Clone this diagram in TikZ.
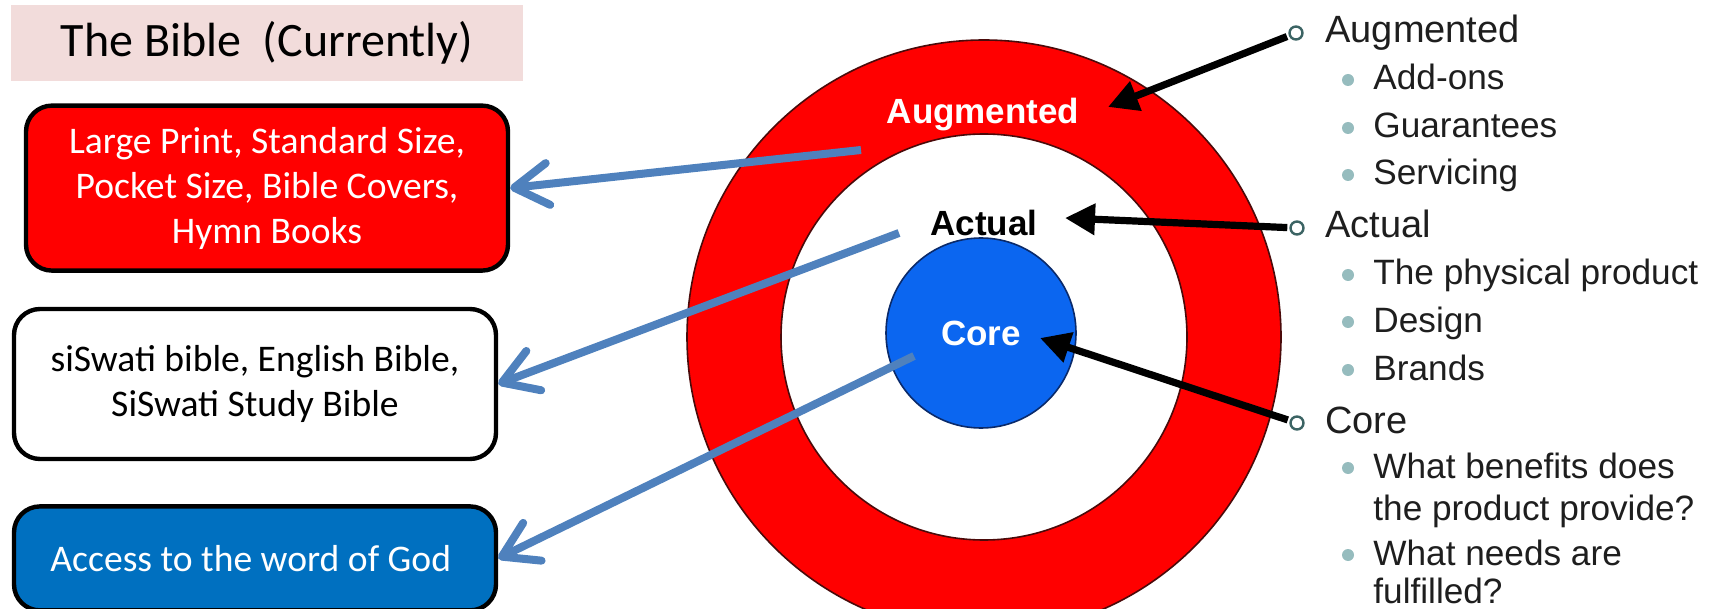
\documentclass[tikz,border=0pt]{standalone}
\usepackage{fontspec}
\setmainfont{Carlito}
\newfontfamily\arialfont{Liberation Sans}
\usetikzlibrary{arrows.meta, positioning}
\definecolor{titlebg}{HTML}{F2DCDB}
\definecolor{formatred}{HTML}{FF0000}
\definecolor{accessblue}{HTML}{0070C0}
\definecolor{pointerblue}{HTML}{4F81BD}
\definecolor{ringred}{HTML}{FF0000}
\definecolor{ringline}{HTML}{4A0A0A}
\definecolor{corefill}{HTML}{0B66F0}
\definecolor{coreline}{HTML}{0A2A6A}
\definecolor{listtext}{HTML}{1E1E1E}
\definecolor{bulletline}{HTML}{3C6464}
\definecolor{subbullet}{HTML}{96BCBE}
\tikzset{
  titlebox/.style={
    fill=titlebg,
    minimum width=256pt,
    minimum height=38pt,
    inner sep=0pt,
    font=\fontsize{24}{29}\selectfont
  },
  box/.style={
    draw=black,
    line width=2.2pt,
    rounded corners=13pt,
    minimum width=241pt,
    align=center,
    inner sep=0pt,
    font=\fontsize{18.8}{22.5}\selectfont
  },
  redbox/.style={
    box,
    fill=formatred,
    text=white,
    minimum height=82.5pt
  },
  plainbox/.style={
    box,
    fill=white,
    minimum height=75pt
  },
  bluebox/.style={
    box,
    fill=accessblue,
    text=white,
    minimum height=52pt
  },
  ring/.style={
    circle,
    draw=ringline,
    line width=0.8pt,
    inner sep=0pt
  },
  ringlabel/.style={
    inner sep=0pt,
    font=\arialfont\bfseries\fontsize{17.5}{20}\selectfont
  },
  listitem/.style={
    anchor=base west,
    inner sep=0pt,
    text=listtext,
    font=\arialfont\fontsize{19}{22}\selectfont
  },
  subitem/.style={
    listitem,
    font=\arialfont\fontsize{17.6}{21}\selectfont
  },
  mainbullet/.style={
    circle,
    draw=bulletline,
    line width=1.2pt,
    fill=white,
    inner sep=0pt,
    minimum size=6.5pt
  },
  subbullet/.style={
    circle,
    fill=subbullet,
    inner sep=0pt,
    minimum size=6pt
  },
  pointer/.style={
    -{Straight Barb[length=17pt, width=21pt, round]},
    line width=4pt,
    draw=pointerblue
  },
  callout/.style={
    -{Triangle[length=15pt, width=15pt]},
    line width=3.6pt,
    draw=black,
    shorten <=1pt
  }
}

\begin{document}
\begin{tikzpicture}[x=0.5pt, y=-0.5pt]

\useasboundingbox (0,0) rectangle (1718,609);
\clip (0,0) rectangle (1718,609);

% left column
\node[titlebox] (title) at (267,43) {The Bible\ \ (Currently)};

\node[redbox, below=11pt of title] (formats) {
  Large Print, Standard Size,\\
  Pocket Size, Bible Covers,\\
  Hymn Books
};

\node[plainbox, below=17pt of formats, xshift=-6pt] (languages) {
  siSwati bible, English Bible,\\
  SiSwati Study Bible
};

\node[bluebox, below=21.5pt of languages] (access) {
  Access to the word of God
};

% product levels
\node[ring, fill=ringred, minimum size=297pt] (augmented) at (984,337) {};
\node[ring, fill=white, minimum size=203pt] (actual) at (984,337) {};
\node[ring, fill=corefill, draw=coreline, minimum size=95pt,
      text=white, font=\arialfont\bfseries\fontsize{17.5}{20}\selectfont] (core) at (981,333) {Core};

\node[ringlabel, text=white] (auglabel) at (983,115) {Augmented};
\node[ringlabel, text=black] (actlabel) at (984,223) {Actual};

% list on the right
\node[mainbullet] (augbullet) at (1296,33) {};
\node[listitem] (augitem) at (1325,43) {Augmented};
\node[subbullet] at (1348,80) {};
\node[subitem] (addons) at (1373,90) {Add-ons};
\node[subbullet] at (1348,128) {};
\node[subitem] (guarantees) at (1373,138) {Guarantees};
\node[subbullet] at (1348,175) {};
\node[subitem] (servicing) at (1373,185) {Servicing};

\node[mainbullet] (actbullet) at (1297,228) {};
\node[listitem] (actitem) at (1325,238) {Actual};
\node[subbullet] at (1348,275) {};
\node[subitem] (physical) at (1373,285) {The physical product};
\node[subbullet] at (1348,322) {};
\node[subitem] (design) at (1373,332) {Design};
\node[subbullet] at (1348,370) {};
\node[subitem] (brands) at (1373,380) {Brands};

\node[mainbullet] (corebullet) at (1297,423) {};
\node[listitem] (coreitem) at (1325,433) {Core};
\node[subbullet] at (1348,468) {};
\node[subitem] (benefits) at (1373,478) {What benefits does};
\node[subitem] (benefitsb) at (1373,520) {the product provide?};
\node[subbullet] at (1348,555) {};
\node[subitem] (needs) at (1373,565) {What needs are};
\node[subitem] (needsb) at (1373,603) {fulfilled?};

% arrow ends
\coordinate (augfrom) at (861,150);
\coordinate (actfrom) at (899,233);
\coordinate (corefrom) at (914,356);
\coordinate (augtip) at (1108,107);
\coordinate (acttip) at (1065,218);
\coordinate (coretip) at (1040,338);

\draw[pointer] (augfrom) -- (formats.east);
\draw[pointer] (actfrom) -- (languages.east);
\draw[pointer] (corefrom) -- (access.east);

\draw[callout] (augbullet) -- (augtip);
\draw[callout] (actbullet) -- (acttip);
\draw[callout] (corebullet) -- (coretip);

\end{tikzpicture}
\end{document}
